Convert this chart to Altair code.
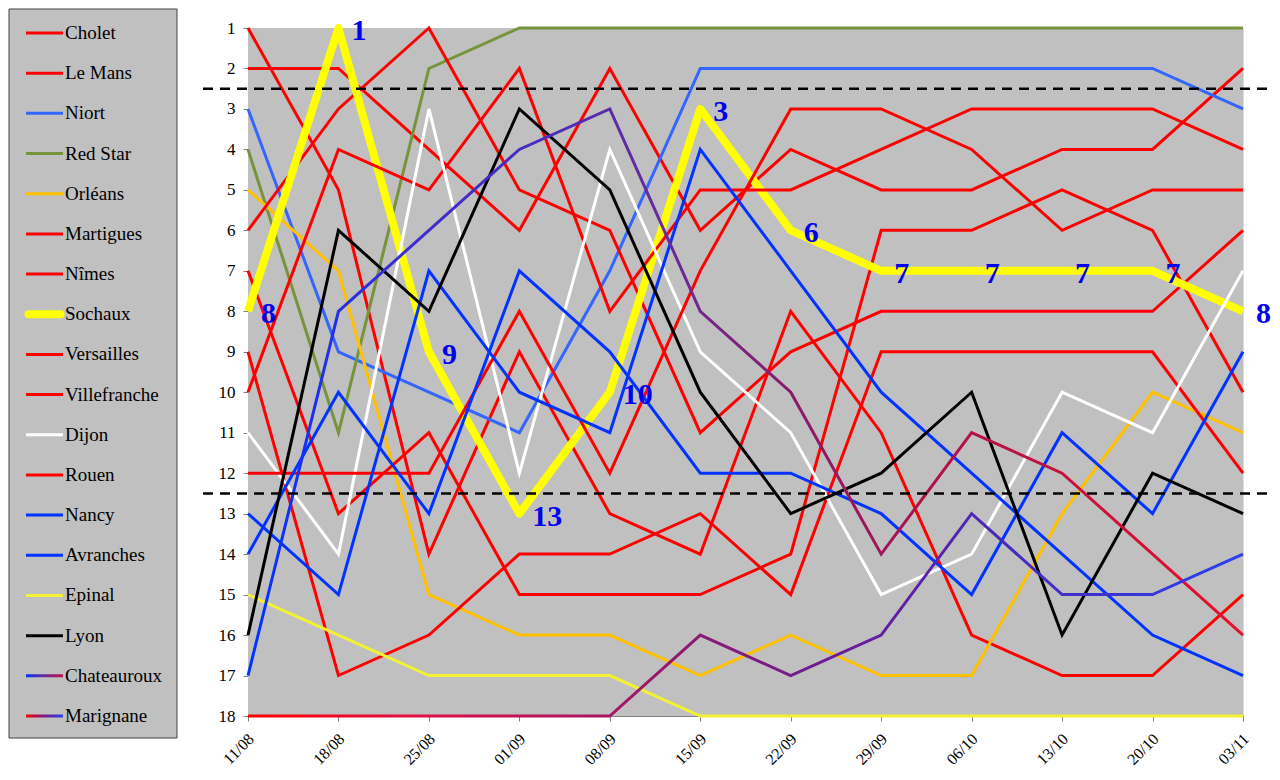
import altair as alt
import pandas as pd

FONT = "Liberation Serif"

dates = ["11/08", "18/08", "25/08", "01/09", "08/09", "15/09", "22/09",
         "29/09", "06/10", "13/10", "20/10", "03/11"]

teams = ["Cholet", "Le Mans", "Niort", "Red Star", "Orléans", "Martigues",
         "Nîmes", "Sochaux", "Versailles", "Villefranche", "Dijon", "Rouen",
         "Nancy", "Avranches", "Epinal", "Lyon", "Chateauroux", "Marignane"]

cholet       = [1, 5, 14, 9, 13, 14, 8, 11, 16, 17, 17, 15]
le_mans      = [2, 2, 4, 6, 2, 6, 4, 5, 5, 4, 4, 2]
niort        = [3, 9, 10, 11, 7, 2, 2, 2, 2, 2, 2, 3]
red_star     = [4, 11, 2, 1, 1, 1, 1, 1, 1, 1, 1, 1]
orleans      = [5, 7, 15, 16, 16, 17, 16, 17, 17, 13, 10, 11]
martigues    = [6, 3, 1, 5, 6, 11, 9, 8, 8, 8, 8, 6]
nimes        = [7, 13, 11, 15, 15, 15, 14, 6, 6, 5, 6, 10]
sochaux      = [8, 1, 9, 13, 10, 3, 6, 7, 7, 7, 7, 8]
versailles   = [9, 17, 16, 14, 14, 13, 15, 9, 9, 9, 9, 12]
villefranche = [10, 4, 5, 2, 8, 5, 5, 4, 3, 3, 3, 4]
dijon        = [11, 14, 3, 12, 4, 9, 11, 15, 14, 10, 11, 7]
rouen        = [12, 12, 12, 8, 12, 7, 3, 3, 4, 6, 5, 5]
nancy        = [13, 15, 7, 10, 11, 4, 7, 10, 12, 14, 16, 17]
avranches    = [14, 10, 13, 7, 9, 12, 12, 13, 15, 11, 13, 9]
epinal       = [15, 16, 17, 17, 17, 18, 18, 18, 18, 18, 18, 18]
lyon         = [16, 6, 8, 3, 5, 10, 13, 12, 10, 16, 12, 13]
chateauroux  = [17, 8, 6, 4, 3, 8, 10, 14, 11, 12, 14, 16]
marignane    = [18, 18, 18, 18, 18, 16, 17, 16, 13, 15, 15, 14]

thresholds = [2.5, 12.5]

RED = "#ff0000"
team_colors = [RED, RED, "#3366ff", "#77933c", "#ffc000", RED, RED, "#ffff00",
               RED, RED, "#ffffff", RED, "#0033ff", "#0033ff", "#f2f233",
               "#000000", None, None]

chat_stops = [(0.0, "#0033ff"), (0.15, "#3a2ed0"), (0.3, "#4b2bbf"),
              (0.42, "#6a2a9a"), (0.55, "#8b1a6b"), (0.7, "#b0104a"),
              (1.0, "#e8102a")]
marig_stops = [(0.0, "#ff0000"), (0.18, "#e01048"), (0.33, "#b0155e"),
               (0.45, "#8b1a72"), (0.6, "#6a1b9a"), (0.75, "#4a28b8"),
               (1.0, "#2a40f0")]
chat_legend_stops = [(0.0, "#0033ff"), (0.5, "#6a2a9a"), (1.0, "#c0104a")]
marig_legend_stops = [(0.0, "#ff0000"), (0.5, "#7a1a8a"), (1.0, "#2a40f0")]

series = [cholet, le_mans, niort, red_star, orleans, martigues, nimes, sochaux,
          versailles, villefranche, dijon, rouen, nancy, avranches, epinal,
          lyon, chateauroux, marignane]

W, H = 995, 688
GRAY = "#c0c0c0"


def grad(stops):
    return alt.LinearGradient(
        gradient="linear",
        stops=[alt.GradientStop(offset=o, color=c) for o, c in stops],
        x1=0, x2=1, y1=0, y2=0,
    )


x_scale = alt.Scale(type="point", domain=dates, padding=0)
y_scale = alt.Scale(domain=[1, 18], reverse=True, nice=False, zero=False)

x_axis = alt.Axis(title=None, labelAngle=315, labelAlign="right",
                  labelBaseline="middle", labelFont=FONT, labelFontSize=16,
                  labelColor="black", labelPadding=15, labelOffset=3,
                  labelOverlap=False, tickSize=5, tickColor="#808080",
                  domainColor="#808080", grid=False)
y_axis = alt.Axis(title=None, values=list(range(1, 19)), format="d",
                  labelFont=FONT, labelFontSize=17, labelColor="black",
                  labelPadding=8, labelFlush=False, labelOverlap=False,
                  tickSize=5, tickColor="#808080", domainColor="#808080",
                  grid=False)

x_enc = alt.X("date:N", sort=dates, scale=x_scale, axis=x_axis)
y_enc = alt.Y("rank:Q", scale=y_scale, axis=y_axis)

# plot-area background
plot_bg = alt.Chart(pd.DataFrame({"k": [0]})).mark_rect(fill=GRAY).encode(
    x=alt.value(0), x2=alt.value(W), y=alt.value(0), y2=alt.value(H)
)

line_layers = []
for name, vals, col in zip(teams, series, team_colors):
    df = pd.DataFrame({"date": dates, "rank": vals, "i": list(range(len(dates)))})
    if name == "Chateauroux":
        mk = alt.Chart(df).mark_line(stroke=grad(chat_stops), strokeWidth=3)
    elif name == "Marignane":
        mk = alt.Chart(df).mark_line(stroke=grad(marig_stops), strokeWidth=3)
    elif name == "Sochaux":
        mk = alt.Chart(df).mark_line(color=col, strokeWidth=8, strokeJoin="round")
    else:
        mk = alt.Chart(df).mark_line(color=col, strokeWidth=3)
    line_layers.append(mk.encode(x=x_enc, y=y_enc, order=alt.Order("i:Q")))

dashed = alt.Chart(pd.DataFrame({"rank": thresholds})).mark_rule(
    color="black", strokeWidth=2.5, strokeDash=[10, 7]
).encode(y=y_enc, x=alt.value(-45), x2=alt.value(1021))

soch_df = pd.DataFrame({"date": dates, "rank": sochaux})
soch_labels = alt.Chart(soch_df).mark_text(
    align="left", baseline="middle", dx=13, dy=3, font=FONT, fontSize=30,
    fontWeight="bold", color="#0000ee"
).encode(x=x_enc, y=y_enc, text=alt.Text("rank:Q", format="d"))

main = alt.layer(plot_bg, *line_layers, dashed, soch_labels)

# ---- legend (drawn to the left of the plot) ----
ly_scale = alt.Scale(type="point", domain=teams, range=[5, 688], padding=0)
lx_scale = alt.Scale(domain=[0, 6], range=[-222, -185], nice=False, zero=False)

plain = [(n, c) for n, c in zip(teams, team_colors)
         if c is not None and n != "Sochaux"]
leg_df = pd.DataFrame({"team": [n for n, _ in plain], "c": [c for _, c in plain],
                       "x0": [0] * len(plain), "x1": [6] * len(plain)})

box = alt.Chart(pd.DataFrame({"k": [0]})).mark_rect(
    fill=GRAY, stroke="#404040", strokeWidth=1
).encode(x=alt.value(-239), x2=alt.value(-71), y=alt.value(-19), y2=alt.value(710))

leg_lines = alt.Chart(leg_df).mark_rule(strokeWidth=3).encode(
    x=alt.X("x0:Q", scale=lx_scale, axis=None),
    x2="x1:Q",
    y=alt.Y("team:N", scale=ly_scale, axis=None),
    color=alt.Color("c:N", scale=None),
)
leg_soch = alt.Chart(pd.DataFrame({"team": ["Sochaux"], "x0": [0.4], "x1": [5.6]})).mark_rule(
    strokeWidth=8, strokeCap="round", color="#ffff00"
).encode(
    x=alt.X("x0:Q", scale=lx_scale, axis=None),
    x2="x1:Q",
    y=alt.Y("team:N", scale=ly_scale, axis=None),
)
leg_chat = alt.Chart(pd.DataFrame({"team": ["Chateauroux"], "xm": [3]})).mark_tick(
    orient="horizontal", thickness=3, size=37, opacity=1,
    color=grad(chat_legend_stops)
).encode(
    x=alt.X("xm:Q", scale=lx_scale, axis=None),
    y=alt.Y("team:N", scale=ly_scale, axis=None),
)
leg_marig = alt.Chart(pd.DataFrame({"team": ["Marignane"], "xm": [3]})).mark_tick(
    orient="horizontal", thickness=3, size=37, opacity=1,
    color=grad(marig_legend_stops)
).encode(
    x=alt.X("xm:Q", scale=lx_scale, axis=None),
    y=alt.Y("team:N", scale=ly_scale, axis=None),
)
leg_text = alt.Chart(pd.DataFrame({"team": teams})).mark_text(
    align="left", baseline="middle", font=FONT, fontSize=19, color="black"
).encode(
    x=alt.value(-183),
    y=alt.Y("team:N", scale=ly_scale, axis=None),
    text="team:N",
)

legend = alt.layer(box, leg_lines, leg_soch, leg_chat, leg_marig, leg_text)

chart = alt.layer(main, legend).resolve_scale(
    x="independent", y="independent"
).properties(
    width=W, height=H, padding=0
).configure_view(
    fill=GRAY, stroke=None
).configure(background="white")

chart.save("out.html", embed_options={"renderer": "svg", "actions": False})
